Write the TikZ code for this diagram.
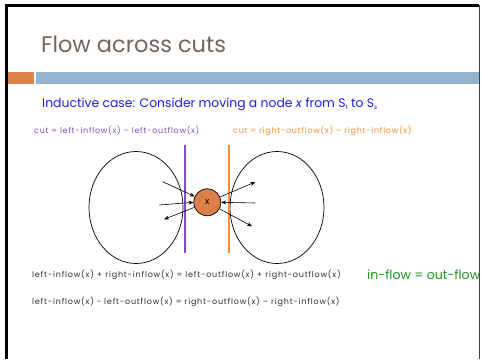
\documentclass[tikz,border=0pt]{standalone}
\usepackage{fontspec}
\setmainfont{Poppins}
\newfontfamily\spaced[LetterSpace=9]{Poppins}
\newfontfamily\eqspaced[LetterSpace=10]{Poppins}
\usetikzlibrary{arrows.meta,shapes.geometric}
\definecolor{titlec}{RGB}{117,100,90}
\definecolor{barorange}{RGB}{221,130,72}
\definecolor{barblue}{RGB}{148,179,208}
\definecolor{subblue}{RGB}{30,30,235}
\definecolor{cutpurple}{RGB}{135,75,195}
\definecolor{cutorange}{RGB}{250,140,50}
\definecolor{nodeorange}{RGB}{217,127,71}
\definecolor{eqgray}{RGB}{45,45,45}
\definecolor{flowgreen}{RGB}{30,150,30}
\tikzset{
  flowarrow/.style={-{Stealth[length=5pt,width=4pt]}, line width=0.6pt},
  setell/.style={draw, line width=0.7pt, ellipse, minimum width=94pt, minimum height=112pt, inner sep=0pt},
  txt/.style={inner sep=0pt, anchor=west},
}
\begin{document}
\begin{tikzpicture}[x=1pt,y=-1pt]
\useasboundingbox (0,0) rectangle (481,359);
\fill[white] (0,0) rectangle (481,359);
% frame
\draw[line width=3pt] (6.5,359) -- (6.5,5.5) -- (479,5.5);
\draw[line width=1.2pt, black!75] (479.5,5) -- (479.5,359);
% bars
\fill[barorange] (8,72) rectangle (34,84);
\fill[barblue] (36,72) rectangle (478.9,84);
% title
\node[txt, text=titlec, font=\fontsize{22.5}{26}\selectfont] (title) at (41,44) {Flow across cuts};
\node[txt, text=subblue, font=\fontsize{12.4}{14}\selectfont] (sub) at (42,104) {Inductive case: Consider moving a node \textit{x} from S\raisebox{-0.3ex}{\fontsize{6}{7}\selectfont t} to S\raisebox{-0.3ex}{\fontsize{6}{7}\selectfont s}};
\node[txt, text=cutpurple, font=\spaced\fontsize{8}{10}\selectfont] (lcut) at (34,131) {cut = left-inflow(x) \textendash{} left-outflow(x)};
\node[txt, text=cutorange, font=\spaced\fontsize{8}{10}\selectfont] (rcut) at (233,131) {cut = right-outflow(x) \textendash{} right-inflow(x)};
% sets
\node[setell] (L) at (136,207.5) {};
\node[setell] (R) at (277,207.5) {};
% cuts
\coordinate (p1) at (185.3,145); \coordinate (p2) at (185.3,253);
\coordinate (o1) at (229,145); \coordinate (o2) at (229,253);
\draw[cutpurple, line width=1.7pt] (p1) -- (p2);
\draw[cutorange, line width=1.7pt] (o1) -- (o2);
% node x
\node[circle, draw, line width=0.7pt, fill=nodeorange, minimum size=27pt, inner sep=0pt, font=\fontsize{9}{10}\selectfont] (x) at (207.3,202.3) {x};
% arrows
\coordinate (a1) at (162.7,181.7);
\coordinate (a2) at (159.3,205);
\coordinate (a3) at (164,219.3);
\coordinate (b1) at (255.3,182);
\coordinate (b2) at (255.3,203);
\coordinate (b3) at (252,226.3);
\draw[flowarrow] (a1) -- (x);
\draw[flowarrow] (a2) -- (x.west);
\draw[flowarrow] (x) -- (a3);
\draw[flowarrow] (x) -- (b1);
\draw[flowarrow] (b2) -- (x.east);
\draw[flowarrow] (x) -- (b3);
% equations
\node[txt, text=eqgray, font=\eqspaced\fontsize{8}{10}\selectfont] (eq1) at (32,275) {left-inflow(x) + right-inflow(x) = left-outflow(x) + right-outflow(x)};
\node[txt, text=eqgray, font=\eqspaced\fontsize{8}{10}\selectfont] (eq2) at (32,302) {left-inflow(x) - left-outflow(x) = right-outflow(x) \textendash{} right-inflow(x)};
\node[txt, text=flowgreen, font=\fontsize{12.6}{15}\selectfont] (io) at (367,275) {in-flow = out-flow};
\end{tikzpicture}
\end{document}
